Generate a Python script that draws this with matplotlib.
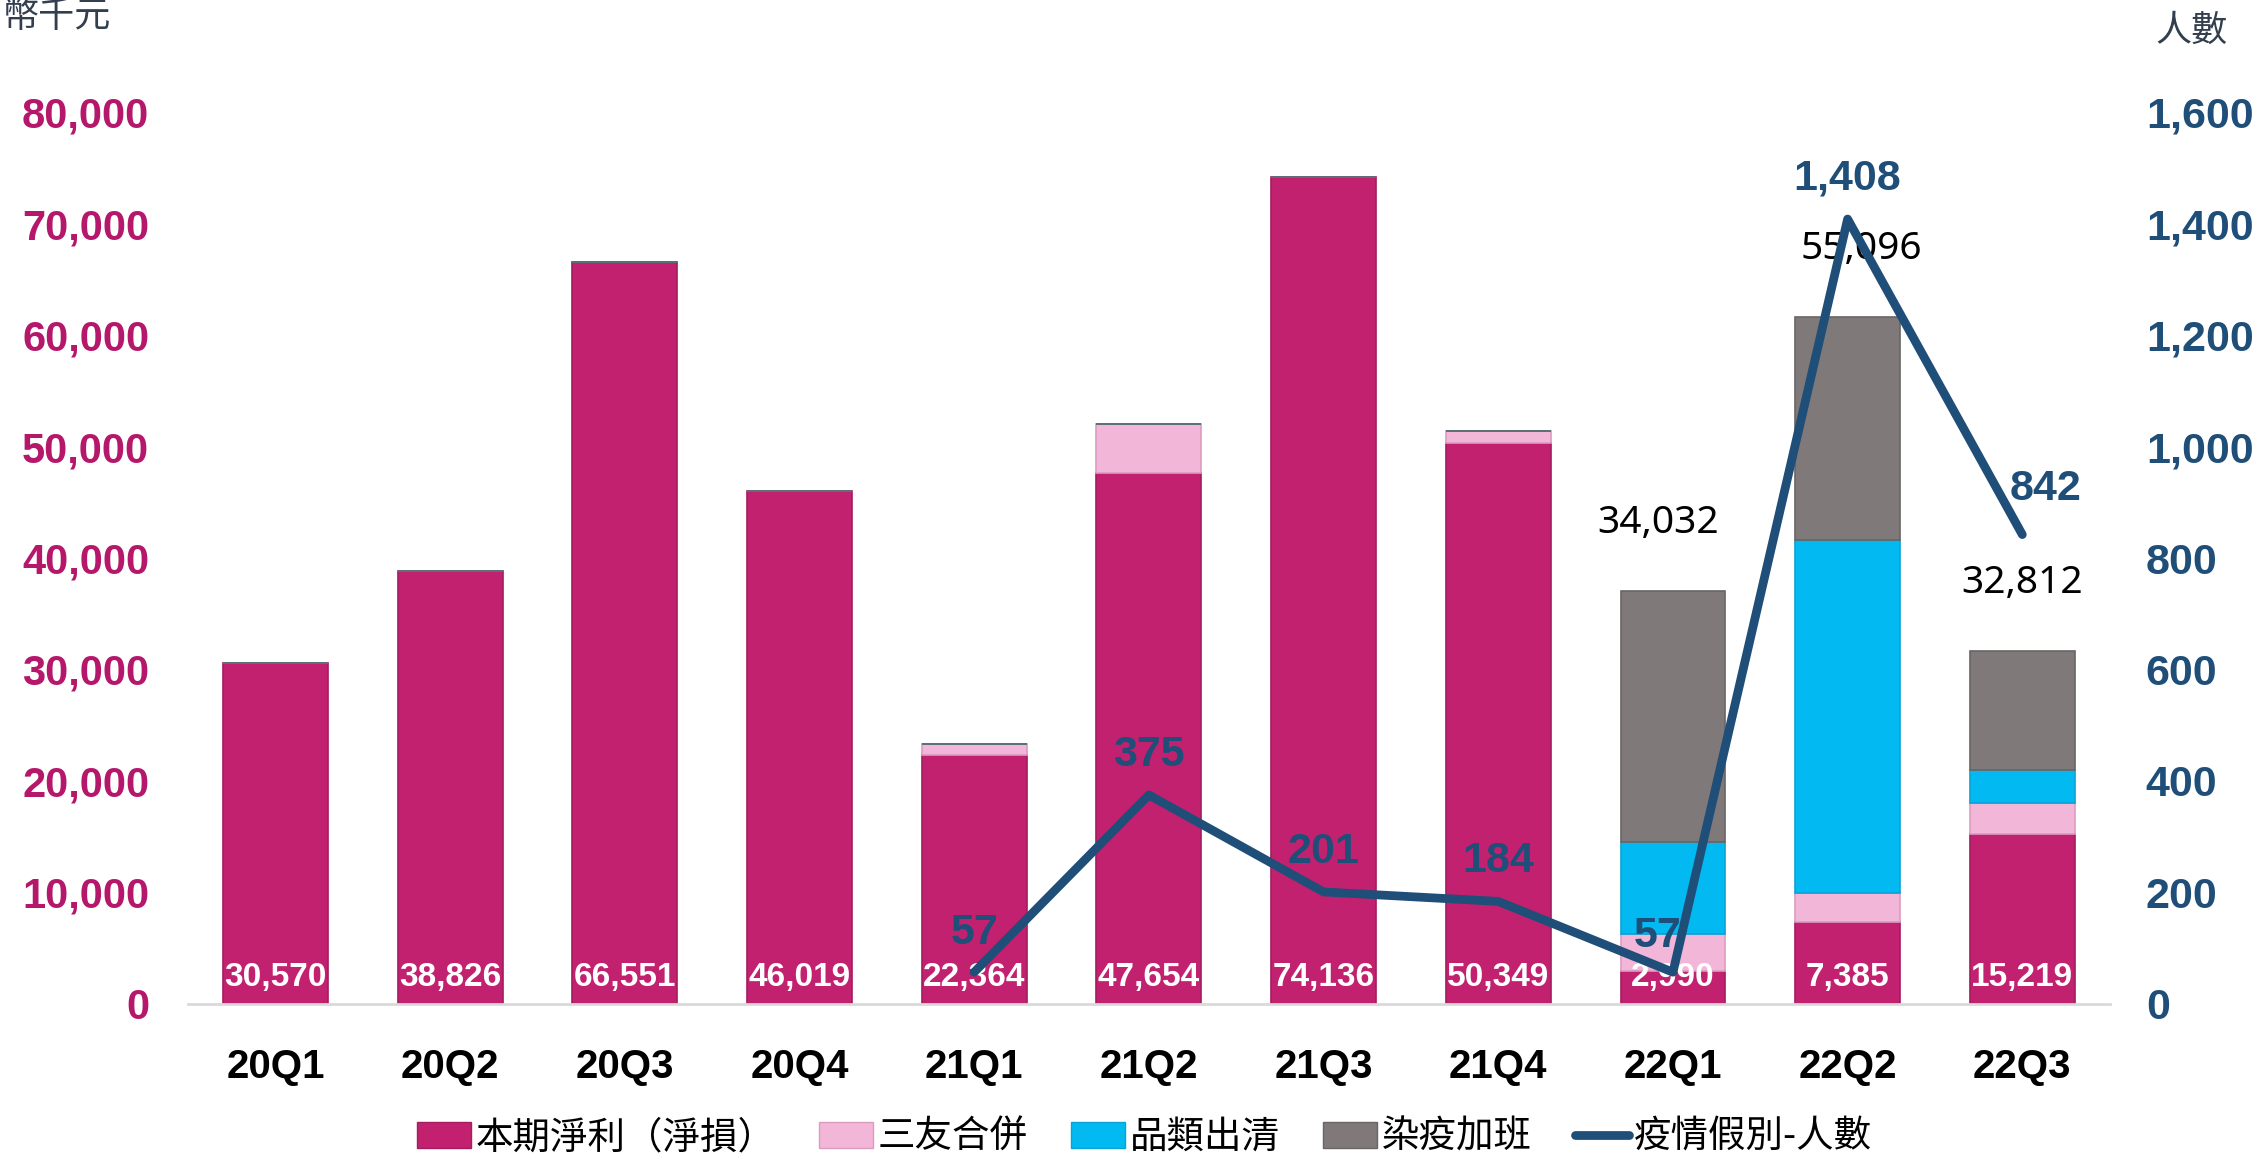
import matplotlib
matplotlib.use("Agg")
import matplotlib.pyplot as plt
from matplotlib.patches import Patch
from matplotlib.lines import Line2D
from matplotlib.ticker import FuncFormatter
import numpy as np

# ---- data ----
quarters = ["20Q1", "20Q2", "20Q3", "20Q4", "21Q1", "21Q2", "21Q3", "21Q4", "22Q1", "22Q2", "22Q3"]
net_profit = [30570, 38826, 66551, 46019, 22364, 47654, 74136, 50349, 2990, 7385, 15219]
sanyou = [0, 0, 0, 0, 950, 4330, 0, 1000, 3250, 2600, 2800]
clearance = [0, 0, 0, 0, 0, 0, 0, 0, 8300, 31650, 3000]
overtime = [0, 0, 0, 0, 0, 0, 0, 0, 22482, 19965, 10600]
total_labels = ["", "", "", "", "", "", "", "", "34,032", "55,096", "32,812"]
leave_people = [None, None, None, None, 57, 375, 201, 184, 57, 1408, 842]

series_names = ["本期淨利（淨損）", "三友合併", "品類出清", "染疫加班", "疫情假別-人數"]

# ---- style ----
C_MAIN = "#C2216F"
C_PINK = "#F2B6D8"
C_CYAN = "#02B9F1"
C_GRAY = "#7F7A79"
C_LINE = "#1F4E79"
C_LEFT = "#B5186A"
CJK = ["Noto Sans CJK TC", "DejaVu Sans"]
NUM = ["Liberation Sans", "DejaVu Sans"]

fig = plt.figure(figsize=(22.66, 11.56), dpi=100)
ax = fig.add_axes([0.083, 0.1315, 0.848, 0.7716])
ax2 = ax.twinx()

x = np.arange(len(quarters))
w = 0.6
bottoms = np.zeros(len(quarters))
layers = [(net_profit, C_MAIN, "#A51C60"), (sanyou, C_PINK, "#DC9CC0"),
          (clearance, C_CYAN, "#0AA3D6"), (overtime, C_GRAY, "#6A6564")]
for vals, col, ec in layers:
    v = np.array(vals, dtype=float)
    ax.bar(x, v, w, bottom=bottoms, color=col, edgecolor=ec, linewidth=1.2, zorder=2)
    bottoms += v

ax.set_xlim(-0.5, len(quarters) - 0.5)
ax.set_ylim(0, 80000)
ax.set_yticks(np.arange(0, 80001, 10000))
ax.yaxis.set_major_formatter(FuncFormatter(lambda v, p: f"{int(v):,}"))
ax.set_xticks(x)
ax.set_xticklabels(quarters, fontsize=29, fontweight="bold", family=NUM, color="black")
ax.tick_params(axis="x", length=0, pad=32)
ax.tick_params(axis="y", length=0, pad=28, labelsize=30, labelcolor=C_LEFT)
for t in ax.get_yticklabels():
    t.set_fontweight("bold"); t.set_family(NUM)
for s in ["top", "left", "right"]:
    ax.spines[s].set_visible(False)
ax.spines["bottom"].set_color("#D9D9D9")
ax.spines["bottom"].set_linewidth(2)

# values inside bars
for xi, v in zip(x, net_profit):
    ax.text(xi, 2400, f"{v:,}", ha="center", va="center", color="white",
            fontsize=24, fontweight="bold", family=NUM, zorder=4)

# totals above bars
tot_dx = [0, 0, 0, 0, 0, 0, 0, 0, -11, 10, 0]
for xi, lab, top, dx in zip(x, total_labels, bottoms, tot_dx):
    if lab:
        ax.annotate(lab, (xi, top), xytext=(dx, 49), textcoords="offset points",
                    ha="center", va="center", fontsize=28, family=["Noto Sans", "DejaVu Sans"],
                    color="black", zorder=4)

# line on secondary axis
ax2.set_ylim(0, 1600)
ax2.set_yticks(np.arange(0, 1601, 200))
ax2.yaxis.set_major_formatter(FuncFormatter(lambda v, p: f"{int(v):,}"))
ax2.tick_params(axis="y", length=0, pad=26, labelsize=31, labelcolor=C_LINE)
for t in ax2.get_yticklabels():
    t.set_fontweight("bold"); t.set_family(NUM)
for s in ["top", "left", "right", "bottom"]:
    ax2.spines[s].set_visible(False)

lx = [xi for xi, v in zip(x, leave_people) if v is not None]
ly = [v for v in leave_people if v is not None]
ax2.plot(lx, ly, color=C_LINE, lw=6.3, solid_capstyle="round", solid_joinstyle="round", zorder=5)
lab_off = {4: (0, 28), 5: (0, 29), 6: (0, 29), 7: (0, 29), 8: (-11, 26), 9: (0, 29), 10: (17, 33)}
for xi, v in zip(lx, ly):
    dx, dy = lab_off[xi]
    ax2.annotate(f"{v:,}", (xi, v), xytext=(dx, dy), textcoords="offset points",
                 ha="center", va="center", fontsize=31, fontweight="bold", family=NUM,
                 color=C_LINE, zorder=6)

# axis unit titles
fig.text(0.001, 1 - 17 / 1156, "幣千元", ha="left", va="center", fontsize=26,
         color="#333F4F", family=CJK)
fig.text(0.967, 1 - 31 / 1156, "人數", ha="center", va="center", fontsize=26,
         color="#333F4F", family=CJK)

# legend
handles = [Patch(facecolor=C_MAIN, edgecolor="#A51C60"),
           Patch(facecolor=C_PINK, edgecolor="#DC9CC0"),
           Patch(facecolor=C_CYAN, edgecolor="#0AA3D6"),
           Patch(facecolor=C_GRAY, edgecolor="#6A6564"),
           Line2D([0], [0], color=C_LINE, lw=6.3, solid_capstyle="round")]
fig.legend(handles, series_names, loc="center", bbox_to_anchor=(0.505, 0.016), ncol=5,
           frameon=False, prop={"family": CJK, "size": 27}, handlelength=1.45,
           handleheight=0.7, handletextpad=0.12, columnspacing=1.15)

fig.savefig("out.png", dpi=100)
